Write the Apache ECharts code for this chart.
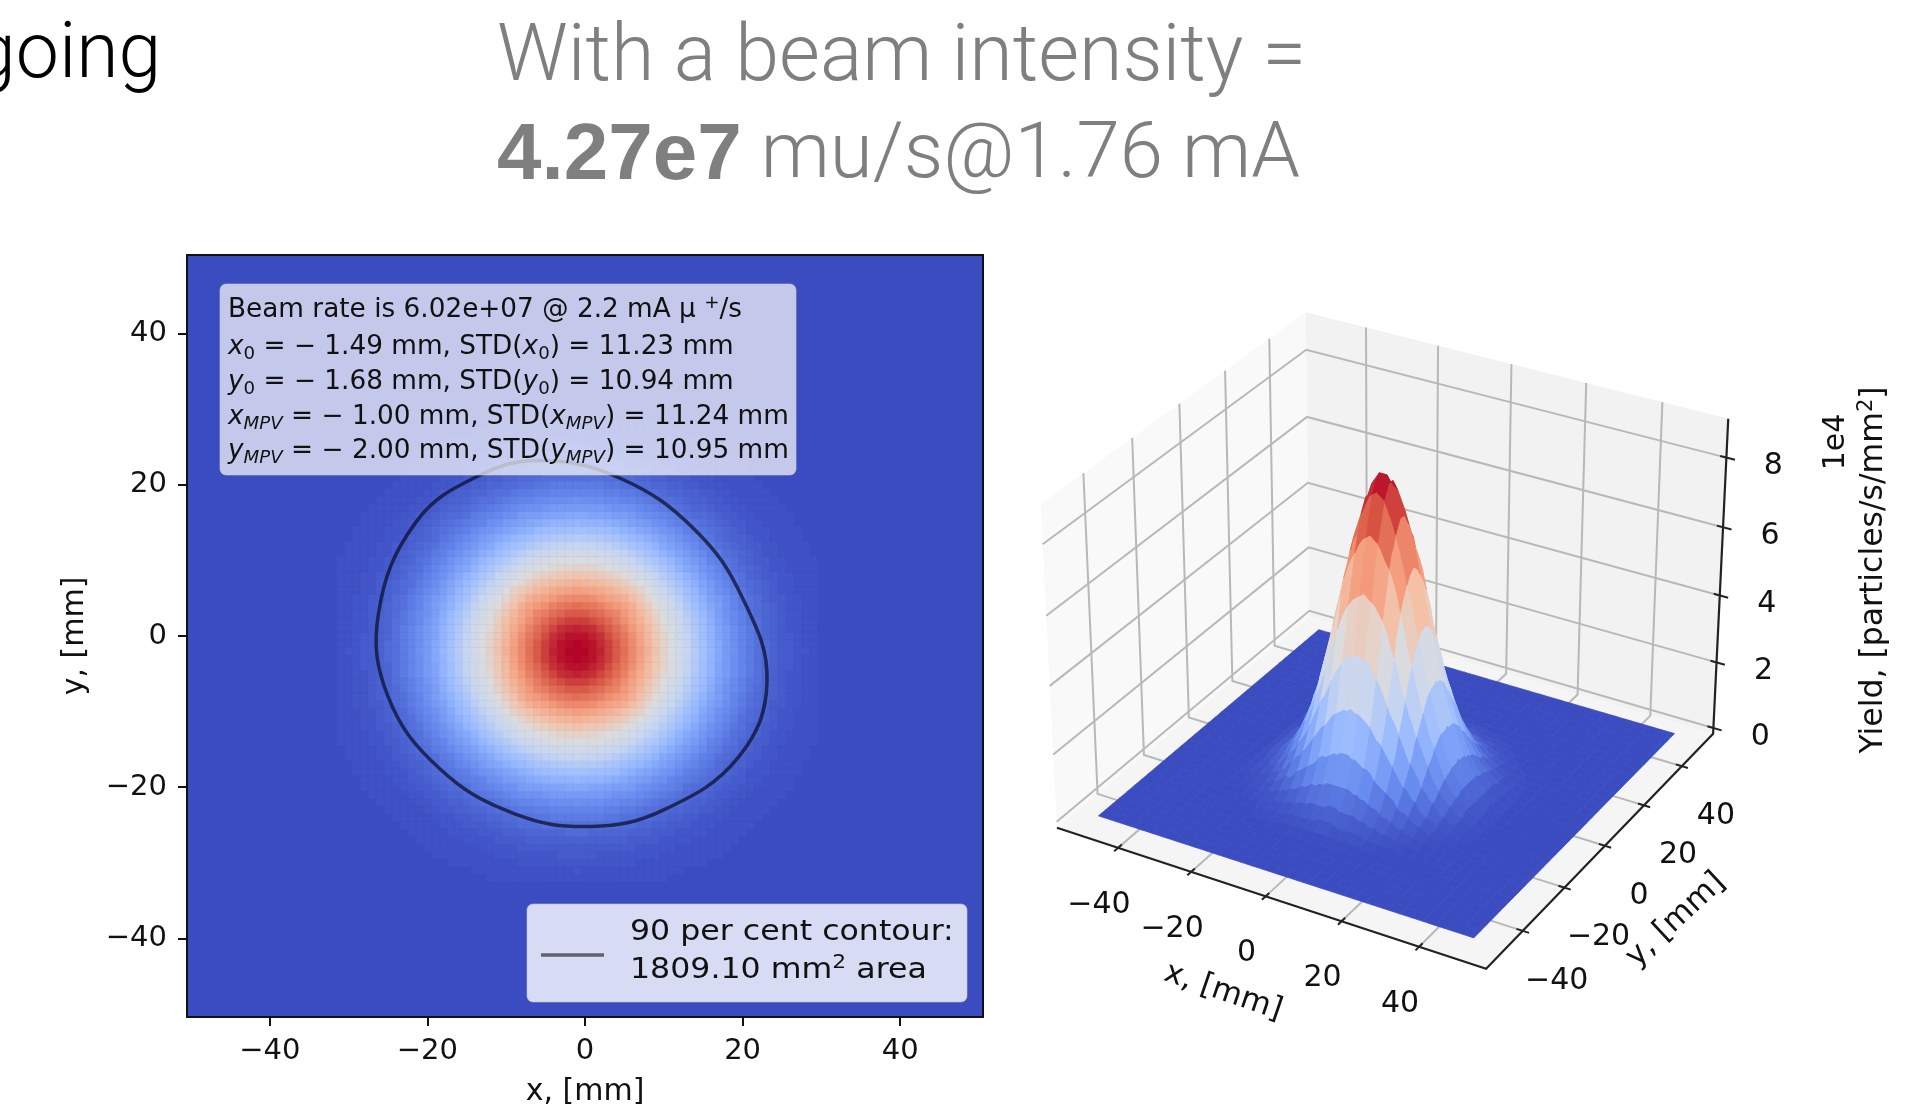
<!DOCTYPE html>
<html><head><meta charset="utf-8"><style>html,body{margin:0;padding:0;background:#fff;overflow:hidden}#c{width:1911px;height:1109px}</style>
<script src="https://cdn.jsdelivr.net/npm/echarts@6/dist/echarts.min.js"></script></head>
<body><div id="c"></div><script>
// ---------- data ----------
const xTicks=[-40,-20,0,20,40];
const yTicks=[-40,-20,0,20,40];
const zTicks=[0,2,4,6,8];
// beam yield in per cent of the peak, 1 mm bins: rows are |y - peakY|, columns |x - peakX|; the spot is mirror-symmetric
const peakX=-1, peakY=-2, peakYield=880; // peak in units of 100 particles/s/mm2
const heatQuadrant=[
[100,100,98,96,92,88,84,78,73,67,61,55,49,43,38,33,28,24,20,16,14,11,9,7,6,4,3,3,2,2,1],
[100,99,98,95,92,88,83,78,72,66,60,54,48,43,37,32,28,23,20,16,13,11,9,7,6,4,3,3,2,1,1],
[98,98,96,94,90,86,82,77,71,65,59,54,48,42,37,32,27,23,19,16,13,11,9,7,5,4,3,3,2,1,1],
[96,95,94,91,88,84,80,75,69,64,58,52,47,41,36,31,27,23,19,16,13,11,9,7,5,4,3,2,2,1,1],
[92,92,90,88,85,81,77,72,67,62,56,50,45,40,35,30,26,22,18,15,12,10,8,7,5,4,3,2,2,1,1],
[88,88,86,84,81,79,75,70,65,60,54,48,43,38,33,29,25,21,17,14,12,10,8,6,5,4,3,2,2,1,1],
[84,83,82,80,77,75,72,68,62,57,51,46,41,36,31,27,23,20,17,14,11,9,7,6,5,4,3,2,2,1,1],
[78,78,77,75,72,70,68,63,58,53,48,43,38,34,29,25,22,18,16,13,11,9,7,6,4,3,3,2,2,1,1],
[73,72,71,69,67,65,62,58,55,49,44,40,35,31,27,24,20,17,14,12,10,8,6,5,4,3,2,2,1,1,1],
[67,66,65,64,62,60,57,53,49,45,40,36,32,29,25,22,19,16,13,11,9,7,6,5,4,3,2,2,1,1,1],
[61,60,59,58,56,54,51,48,44,40,37,33,30,26,23,20,17,14,12,10,8,7,5,4,3,3,2,2,1,1,1],
[55,54,54,52,50,48,46,43,40,36,33,30,27,23,20,18,15,13,11,9,7,6,5,4,3,2,2,1,1,1,1],
[49,48,48,47,45,43,41,38,35,32,30,27,24,21,18,16,14,11,10,8,7,5,4,3,3,2,2,1,1,1,1],
[43,43,42,41,40,38,36,34,31,29,26,23,21,18,16,14,12,10,9,7,6,5,4,3,2,2,1,1,1,1],
[38,37,37,36,35,33,31,29,27,25,23,20,18,16,14,12,10,9,7,6,5,4,3,3,2,2,1,1,1,1],
[33,32,32,31,30,29,27,25,24,22,20,18,16,14,12,11,9,8,6,5,4,4,3,2,2,1,1,1,1],
[28,28,27,27,26,25,23,22,20,19,17,15,14,12,10,9,8,7,6,5,4,3,2,2,2,1,1,1,1],
[24,23,23,23,22,21,20,18,17,16,14,13,11,10,9,8,7,6,5,4,3,3,2,2,1,1,1,1],
[20,20,19,19,18,17,17,16,14,13,12,11,10,9,7,6,6,5,4,3,3,2,2,1,1,1,1,1],
[16,16,16,16,15,14,14,13,12,11,10,9,8,7,6,5,5,4,3,3,2,2,1,1,1,1,1],
[14,13,13,13,12,12,11,11,10,9,8,7,7,6,5,4,4,3,3,2,2,1,1,1,1,1],
[11,11,11,11,10,10,9,9,8,7,7,6,5,5,4,4,3,3,2,2,1,1,1,1,1],
[9,9,9,9,8,8,7,7,6,6,5,5,4,4,3,3,2,2,2,1,1,1,1,1],
[7,7,7,7,7,6,6,6,5,5,4,4,3,3,3,2,2,2,1,1,1,1,1],
[6,6,5,5,5,5,5,4,4,4,3,3,3,2,2,2,2,1,1,1,1,1],
[4,4,4,4,4,4,4,3,3,3,3,2,2,2,2,1,1,1,1,1,1],
[3,3,3,3,3,3,3,3,2,2,2,2,2,1,1,1,1,1,1,1],
[3,3,3,2,2,2,2,2,2,2,2,1,1,1,1,1,1,1,1],
[2,2,2,2,2,2,2,2,1,1,1,1,1,1,1,1,1],
[2,1,1,1,1,1,1,1,1,1,1,1,1,1],
[1,1,1,1,1,1,1,1,1,1,1,1]];
// 90 per cent contour (closed)
const contourX=[-5.4,4.6,13.9,20.0,23.1,19.5,10.0,0.8,-9.0,-18.5,-25.0,-26.2,-21.5,-13.5];
const contourY=[23.2,20.8,14.1,5.0,-6.0,-16.0,-23.0,-25.2,-23.5,-17.5,-8.0,3.0,15.0,21.2];
// surface patch edges, 3 mm apart
const surfX=[-50,-47,-44,-41,-38,-35,-32,-29,-26,-23,-20,-17,-14,-11,-8,-5,-2,1,4,7,10,13,16,19,22,25,28,31,34,37,40,43,46,49,50];
const surfY=surfX;
// ---------- colour map ----------
const coolwarm=['#3b4cc0','#698df0','#9abaff','#c7d6f0','#dddcdc','#f4c0a6','#f49878','#db5e48','#b40426'];
const cw=t=>echarts.color.lerp(Math.max(0,Math.min(1,t)),coolwarm);
// ---------- lookups ----------
function heatAt(x,y){
  const r=heatQuadrant[Math.abs(y-peakY)];
  return r?(r[Math.abs(x-peakX)]||0):0;
}
// ---------- 3D view ----------
const DJ='DejaVu Sans';
const L=57, zMin=-18, zMax=910, DIST=16;
const ORIGIN_X=1391.4, ORIGIN_Y=624, SCALE=245.7, W=1911, H=1109;
const C60=0.5,S60=Math.sqrt(3)/2;
function view(x,y,z){
  const u=x/L,v=y/L,w=-0.75+1.5*(z-zMin)/(zMax-zMin);
  const a=S60*u+C60*v, b=-0.25*u+0.25*Math.sqrt(3)*v+S60*w, c=0.25*Math.sqrt(3)*u-0.75*v+0.5*w;
  const k=1/(1-c/DIST);
  return {p:[a*k,b*k],c};
}
const V=(x,y,z)=>view(x,y,z).p;
const frame=[];
const poly=(pts,fill)=>frame.push({k:'poly',pts,fill});
const line=(pts,color,w)=>frame.push({k:'line',pts,color,w});
const text=(pt,dx,dy,t,size,rot)=>frame.push({k:'text',pt,dx,dy,t,size,rot:rot||0});
poly([V(-L,-L,zMin),V(-L,L,zMin),V(-L,L,zMax),V(-L,-L,zMax)],'#f9f9f9');
poly([V(-L,L,zMin),V(L,L,zMin),V(L,L,zMax),V(-L,L,zMax)],'#f2f2f2');
poly([V(-L,-L,zMin),V(L,-L,zMin),V(L,L,zMin),V(-L,L,zMin)],'#f5f5f5');
const GRID='#b8b8b8';
xTicks.forEach(x=>line([V(x,-L,zMin),V(x,L,zMin),V(x,L,zMax)],GRID,2));
yTicks.forEach(y=>line([V(L,y,zMin),V(-L,y,zMin),V(-L,y,zMax)],GRID,2));
zTicks.forEach(z=>line([V(-L,-L,z*100),V(-L,L,z*100),V(L,L,z*100)],GRID,2));
line([V(-L,-L,zMin),V(L,-L,zMin),V(L,L,zMin),V(L,L,zMax)],'#222',2.2);
const T3=30;
xTicks.forEach(x=>{line([V(x,-L-1.6,zMin),V(x,-L+1.6,zMin)],'#222',2);
  text(V(x,-L,zMin),-19,57,String(x).replace('-','\u2212'),T3);});
yTicks.forEach(y=>{line([V(L-1.6,y,zMin),V(L+1.6,y,zMin)],'#222',2);
  text(V(L,y,zMin),34,50,String(y).replace('-','\u2212'),T3);});
zTicks.forEach(z=>{line([V(L-1.6,L,z*100),V(L+2.2,L,z*100)],'#222',2);
  text(V(L,L,z*100),47,9,String(z),T3);});
// surface patches: each outline follows the 1 mm bins, one colour per patch, far to near
const facets=[];
for(let j=0;j<surfY.length-1;j++)for(let i=0;i<surfX.length-1;i++){
  const x0=surfX[i],x1=surfX[i+1],y0=surfY[j],y1=surfY[j+1],o=[];
  for(let x=x0;x<x1;x++)o.push([x,y0]);
  for(let y=y0;y<y1;y++)o.push([x1,y]);
  for(let x=x1;x>x0;x--)o.push([x,y1]);
  for(let y=y1;y>y0;y--)o.push([x0,y]);
  const q=o.map(a=>[a[0],a[1],heatAt(a[0],a[1])*peakYield/100]);
  const n=q.length,m=q.reduce((s,a)=>s+a[2],0)/n;
  facets.push({pts:q.map(a=>V(a[0],a[1],a[2])),fill:cw(m/peakYield),depth:view((x0+x1)/2,(y0+y1)/2,m).c});
}
facets.sort((a,b)=>a.depth-b.depth);
// ---------- flat list of map cells ----------
const heatData=[];
for(let y=peakY-30;y<=peakY+30;y++)for(let x=peakX-30;x<=peakX+30;x++){
  const v=heatAt(x,y); if(v>0)heatData.push([x,y,v]);
}
const minus=v=>String(v).replace('-','\u2212');
const contourData=contourX.map((x,i)=>[x,contourY[i]]);
// ---------- annotation text ----------
const RT={fontSize:26,fontFamily:DJ,fill:'#111'};
const richMath={i:{fontStyle:'italic',fontSize:26,fontFamily:DJ},s:{fontSize:18,fontFamily:DJ,padding:[14,0,0,0]},
 si:{fontSize:18,fontStyle:'italic',fontFamily:DJ,padding:[14,0,0,0]},u:{fontSize:18,fontFamily:DJ,padding:[0,0,14,0]}};
const boxLines=[
 ['Beam rate is 6.02e+07 @ 2.2 mA \u00b5 {u|+}/s',310],
 ['{i|x}{s|0} = \u2212 1.49 mm, STD({i|x}{s|0}) = 11.23 mm',347],
 ['{i|y}{s|0} = \u2212 1.68 mm, STD({i|y}{s|0}) = 10.94 mm',382],
 ['{i|x}{si|MPV} = \u2212 1.00 mm, STD({i|x}{si|MPV}) = 11.24 mm',417],
 ['{i|y}{si|MPV} = \u2212 2.00 mm, STD({i|y}{si|MPV}) = 10.95 mm',451]];
const TF='Roboto';
const graphics=[
 {type:'text',x:-27,y:58,z:100,style:{text:'going',fontSize:77,fontFamily:TF,fontWeight:300,fill:'#000',verticalAlign:'middle'}},
 {type:'text',x:497,y:60,z:100,style:{text:'With a beam intensity =',fontSize:79,fontFamily:TF,fontWeight:300,fill:'#7f7f7f',verticalAlign:'middle'}},
 {type:'text',x:497,y:157,z:100,style:{text:'{b|4.27e7}{l| mu/s@1.76 mA}',verticalAlign:'middle',rich:{
   b:{fontSize:80,fontFamily:'Liberation Sans',fontWeight:'bold',fill:'#7f7f7f'},
   l:{fontSize:78,fontFamily:TF,fontWeight:300,fill:'#7f7f7f'}}}},
 {type:'rect',z:100,shape:{x:220,y:284,width:576,height:191,r:6},style:{fill:'rgba(255,255,255,0.7)',stroke:'rgba(200,200,200,0.6)',lineWidth:1}},
 ...boxLines.map(b=>({type:'text',x:228,y:b[1],z:101,scaleX:1.012,style:{...RT,text:b[0],verticalAlign:'middle',rich:richMath}})),
 {type:'rect',z:100,shape:{x:527,y:904,width:440,height:98,r:6},style:{fill:'rgba(255,255,255,0.8)',stroke:'rgba(200,200,200,0.6)',lineWidth:1}},
 {type:'line',z:101,shape:{x1:541,y1:955,x2:604,y2:955},style:{stroke:'rgba(0,0,0,0.55)',lineWidth:3.5}},
 {type:'text',x:630,y:932,z:101,scaleX:1.09,style:{...RT,fontSize:29,text:'90 per cent contour:',verticalAlign:'middle'}},
 {type:'text',x:630,y:970,z:101,scaleX:1.09,style:{...RT,fontSize:29,text:'1809.10 mm{u|2} area',verticalAlign:'middle',rich:{u:{fontSize:20,fontFamily:DJ,padding:[0,0,14,0]}}}},
 {type:'text',x:1223,y:992,rotation:-0.33,z:100,style:{...RT,fontSize:31,text:'x, [mm]',align:'center',verticalAlign:'middle'}},
 {type:'text',x:1676,y:920,rotation:0.75,z:100,style:{...RT,fontSize:31,text:'y, [mm]',align:'center',verticalAlign:'middle'}},
 {type:'text',x:1836,y:442,rotation:Math.PI/2,z:100,style:{...RT,fontSize:30,text:'1e4',align:'center',verticalAlign:'middle'}},
 {type:'text',x:1874,y:570,rotation:Math.PI/2,z:100,style:{...RT,fontSize:31.5,text:'Yield, [particles/s/mm{u|2}]',align:'center',verticalAlign:'middle',rich:{u:{fontSize:21,fontFamily:DJ,padding:[0,0,14,0]}}}}
];
// ---------- chart ----------
const chart=echarts.init(document.getElementById('c'),null,{renderer:'canvas',width:W,height:H});
const AX={fontSize:29,fontFamily:DJ,color:'#111'};
const NM={fontSize:30,fontFamily:DJ,color:'#111'};
chart.setOption({
 animation:false,backgroundColor:'#fff',
 grid:[
  {left:187,top:255,width:796,height:762,outerBoundsMode:'none',show:true,backgroundColor:'#3b4cc0',borderColor:'#111',borderWidth:2},
  {left:0,top:0,width:W,height:H,outerBoundsMode:'none'}],
 xAxis:[
  {type:'value',gridIndex:0,min:-50.5,max:50.5,name:'x, [mm]',nameLocation:'middle',nameGap:60,nameTextStyle:NM,
   axisLine:{show:true,onZero:false,lineStyle:{color:'#111',width:2}},
   axisTick:{show:true,length:9,customValues:xTicks,lineStyle:{color:'#111',width:2}},
   axisLabel:{customValues:xTicks,margin:20,...AX,formatter:minus},splitLine:{show:false}},
  {type:'value',gridIndex:1,show:false,min:-ORIGIN_X/SCALE,max:(W-ORIGIN_X)/SCALE}],
 yAxis:[
  {type:'value',gridIndex:0,min:-50.4,max:50.4,name:'y, [mm]',nameLocation:'middle',nameGap:97,nameTextStyle:NM,
   axisLine:{show:true,onZero:false,lineStyle:{color:'#111',width:2}},
   axisTick:{show:true,length:9,customValues:yTicks,lineStyle:{color:'#111',width:2}},
   axisLabel:{customValues:yTicks,margin:20,...AX,formatter:minus,padding:[4,0,0,0]},splitLine:{show:false}},
  {type:'value',gridIndex:1,show:false,min:(ORIGIN_Y-H)/SCALE,max:ORIGIN_Y/SCALE}],
 graphic:{elements:graphics},
 series:[
  {type:'custom',name:'yield map',xAxisIndex:0,yAxisIndex:0,data:heatData,silent:true,z:2,clip:true,
   renderItem:(p,api)=>{
     const x=api.value(0),y=api.value(1);
     const c=api.coord([x-0.5,y+0.5]),s=api.size([1,1]),col=cw(api.value(2)/100);
     return {type:'rect',shape:{x:c[0],y:c[1],width:s[0],height:s[1]},style:{fill:col,stroke:col,lineWidth:0.6}};
   }},
  {type:'custom',name:'90 per cent contour',xAxisIndex:0,yAxisIndex:0,data:[contourData[0]],silent:true,z:3,clip:false,
   renderItem:(p,api)=>({type:'polygon',
     shape:{points:contourData.map(q=>api.coord(q)),smooth:0.4,smoothConstraint:false},
     style:{fill:'none',stroke:'rgba(8,14,45,0.72)',lineWidth:3.5}})},
  {type:'custom',name:'frame 3d',xAxisIndex:1,yAxisIndex:1,data:frame.map((_,i)=>[i,0]),silent:true,z:2,clip:false,
   renderItem:(p,api)=>{
     const f=frame[p.dataIndex];
     if(f.k==='text'){const c=api.coord(f.pt);
       return {type:'text',x:c[0]+f.dx,y:c[1]+f.dy,rotation:f.rot,style:{text:f.t,fontSize:f.size,fontFamily:DJ,fill:'#111',align:'center',verticalAlign:'middle'}};}
     const pts=f.pts.map(q=>api.coord(q));
     if(f.k==='poly')return {type:'polygon',shape:{points:pts},style:{fill:f.fill}};
     return {type:'polyline',shape:{points:pts},style:{fill:'none',stroke:f.color,lineWidth:f.w}};
   }},
  {type:'custom',name:'yield surface',xAxisIndex:1,yAxisIndex:1,data:facets.map((_,i)=>[i,0]),silent:true,z:3,clip:false,
   renderItem:(p,api)=>{
     const f=facets[p.dataIndex];
     return {type:'polygon',shape:{points:f.pts.map(q=>api.coord(q))},style:{fill:f.fill,stroke:f.fill,lineWidth:0.8}};
   }}
 ]
});
</script></body></html>
